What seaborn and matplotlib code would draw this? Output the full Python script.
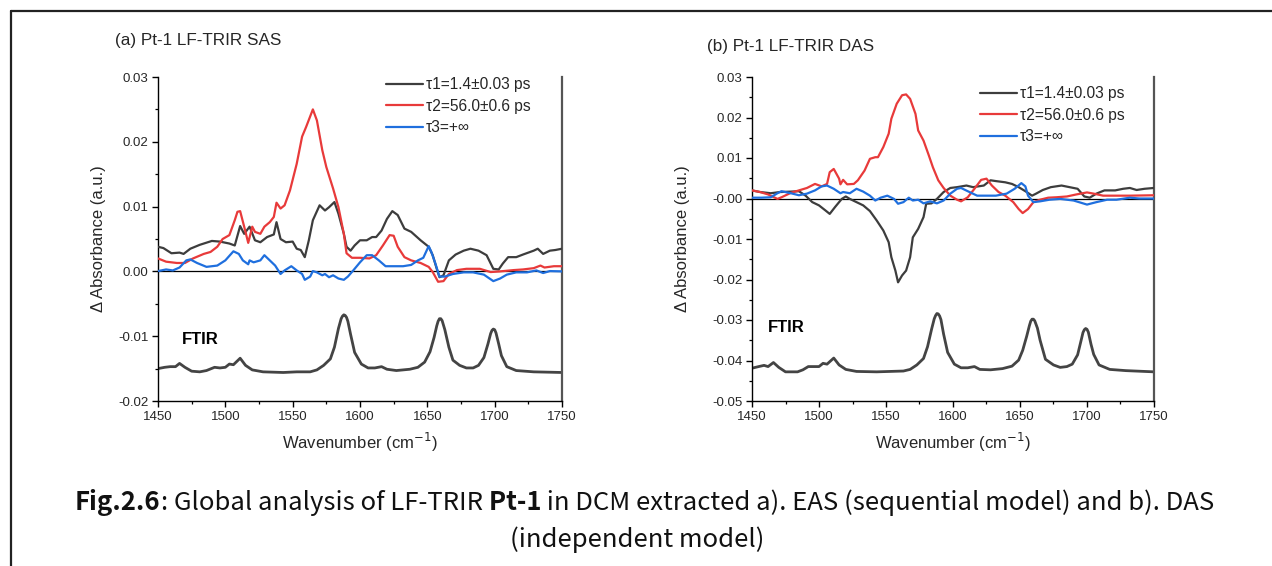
import matplotlib
matplotlib.use("Agg")
import matplotlib.pyplot as plt
import seaborn as sns
from matplotlib.lines import Line2D
from matplotlib.ticker import AutoMinorLocator, MultipleLocator, FormatStrFormatter

# ---------------- data ----------------
series_labels = ["τ1=1.4±0.03 ps", "τ2=56.0±0.6 ps", "τ3=+∞"]
panel_titles = ["(a) Pt-1 LF-TRIR SAS", "(b) Pt-1 LF-TRIR DAS"]
xticks = [1450, 1500, 1550, 1600, 1650, 1700, 1750]

# (a) species-associated spectra
sas_t1_wn = [1450, 1454, 1460, 1466, 1469, 1474, 1481, 1490, 1496, 1503, 1507, 1511, 1514, 1518,
             1522, 1526, 1531, 1536, 1538, 1541, 1545, 1550, 1553, 1556, 1559, 1562, 1565, 1570,
             1574, 1577, 1581, 1584, 1588, 1590, 1593, 1596, 1600, 1605, 1609, 1612, 1616, 1620,
             1624, 1628, 1633, 1638, 1645, 1651, 1654, 1657, 1659, 1662, 1666, 1671, 1677, 1682,
             1688, 1694, 1699, 1703, 1706, 1710, 1716, 1721, 1729, 1732, 1736, 1741, 1745, 1750]
sas_t1 = [0.0038, 0.0036, 0.0028, 0.0029, 0.0027, 0.0035, 0.0041, 0.0047, 0.0046, 0.0043, 0.0040,
          0.0070, 0.0058, 0.0069, 0.0048, 0.0045, 0.0053, 0.0057, 0.0076, 0.0050, 0.0045, 0.0046,
          0.0035, 0.0033, 0.0022, 0.0048, 0.0079, 0.0102, 0.0094, 0.0099, 0.0107, 0.0089, 0.0058,
          0.0038, 0.0032, 0.0040, 0.0048, 0.0048, 0.0053, 0.0053, 0.0063, 0.0081, 0.0093, 0.0087,
          0.0066, 0.0061, 0.0048, 0.0038, 0.0025, 0.0004, -0.0009, -0.0006, 0.0017, 0.0026, 0.0032,
          0.0035, 0.0032, 0.0025, 0.0004, 0.0003, 0.0012, 0.0022, 0.0022, 0.0026, 0.0032, 0.0035,
          0.0027, 0.0032, 0.0033, 0.0035]

sas_t2_wn = [1450, 1456, 1464, 1470, 1476, 1484, 1489, 1494, 1498, 1503, 1507, 1509, 1511, 1514,
             1517, 1520, 1522, 1526, 1529, 1533, 1536, 1538, 1541, 1544, 1548, 1553, 1557, 1560,
             1565, 1568, 1572, 1575, 1580, 1584, 1588, 1590, 1594, 1600, 1607, 1612, 1617, 1622,
             1625, 1628, 1633, 1638, 1645, 1651, 1654, 1658, 1662, 1666, 1672, 1679, 1689, 1697,
             1704, 1714, 1721, 1729, 1734, 1737, 1744, 1750]
sas_t2 = [0.0020, 0.0015, 0.0013, 0.0013, 0.0020, 0.0027, 0.0030, 0.0038, 0.0050, 0.0056, 0.0079,
          0.0092, 0.0093, 0.0069, 0.0044, 0.0069, 0.0061, 0.0058, 0.0069, 0.0076, 0.0084, 0.0106,
          0.0097, 0.0102, 0.0125, 0.0166, 0.0208, 0.0223, 0.0250, 0.0233, 0.0187, 0.0161, 0.0128,
          0.0099, 0.0058, 0.0028, 0.0021, 0.0021, 0.0020, 0.0025, 0.0040, 0.0056, 0.0055, 0.0038,
          0.0022, 0.0017, 0.0013, 0.0007, -0.0001, -0.0016, -0.0015, -0.0004, 0.0002, 0.0004,
          0.0004, -0.0001, 0.0000, 0.0002, 0.0003, 0.0005, 0.0009, 0.0006, 0.0008, 0.0008]

sas_t3_wn = [1450, 1456, 1461, 1466, 1471, 1474, 1479, 1486, 1494, 1500, 1506, 1510, 1513, 1517,
             1518, 1521, 1526, 1529, 1533, 1537, 1541, 1544, 1549, 1553, 1557, 1559, 1563, 1565,
             1568, 1572, 1574, 1577, 1580, 1584, 1588, 1591, 1595, 1600, 1605, 1609, 1614, 1619,
             1625, 1632, 1638, 1643, 1647, 1651, 1653, 1656, 1659, 1663, 1669, 1677, 1684, 1692,
             1699, 1704, 1709, 1716, 1724, 1731, 1736, 1741, 1750]
sas_t3 = [0.00005, 0.0003, 0.00015, 0.0006, 0.0017, 0.00185, 0.0013, 0.0007, 0.0009, 0.0017, 0.0031,
          0.0027, 0.0017, 0.0011, 0.0017, 0.0014, 0.0017, 0.0025, 0.0017, 0.0009, -0.0004, 0.00015,
          0.0008, 0.00015, -0.0004, -0.0013, -0.0008, 0.00005, -0.00015, -0.0006, -0.0004, -0.0009,
          -0.0006, -0.0011, -0.0013, -0.0008, 0.00015, 0.0014, 0.0025, 0.0025, 0.0017, 0.0008,
          0.0008, 0.0008, 0.0010, 0.0017, 0.0021, 0.0039, 0.0030, 0.0012, -0.0008, -0.0008, -0.0004,
          -0.00015, -0.00015, -0.0005, -0.0015, -0.0011, -0.0005, -0.00015, -0.00015, 0.00015,
          -0.00025, 0.00005, 0.0000]

sas_ftir_wn = [1450, 1455, 1459, 1463, 1466, 1470, 1475, 1481, 1486, 1492, 1496, 1500, 1503, 1506,
               1508, 1511, 1515, 1520, 1528, 1543, 1553, 1563, 1568, 1573, 1578, 1581, 1584, 1586,
               1587, 1588, 1589, 1590, 1591, 1593, 1596, 1601, 1606, 1611, 1616, 1620, 1627, 1637,
               1643, 1648, 1652, 1655, 1657, 1658, 1659, 1660, 1661, 1663, 1666, 1669, 1674, 1679,
               1684, 1688, 1692, 1695, 1697, 1698, 1699, 1700, 1701, 1703, 1705, 1709, 1716, 1729,
               1750]
sas_ftir = [-0.0150, -0.0148, -0.0147, -0.0147, -0.0142, -0.0148, -0.0154, -0.0155, -0.0153, -0.0148,
            -0.0149, -0.0148, -0.0143, -0.0144, -0.0140, -0.0134, -0.0145, -0.0152, -0.0155, -0.0156,
            -0.0155, -0.0155, -0.0152, -0.0145, -0.0135, -0.0117, -0.0088, -0.0073, -0.0069, -0.0067,
            -0.0068, -0.0071, -0.0077, -0.0097, -0.0125, -0.0143, -0.0149, -0.0149, -0.0147, -0.0151,
            -0.0153, -0.0151, -0.0148, -0.0140, -0.0124, -0.0102, -0.0084, -0.0077, -0.0073, -0.0073,
            -0.0076, -0.0090, -0.0117, -0.0137, -0.0145, -0.0149, -0.0149, -0.0145, -0.0133, -0.0112,
            -0.0096, -0.0091, -0.0089, -0.0090, -0.0095, -0.0112, -0.0130, -0.0147, -0.0153, -0.0155,
            -0.0156]

# (b) decay-associated spectra
das_t1_wn = [1450, 1456, 1464, 1471, 1479, 1485, 1490, 1495, 1500, 1505, 1508, 1512, 1517, 1520,
             1523, 1528, 1533, 1538, 1543, 1548, 1552, 1554, 1557, 1559, 1562, 1565, 1568, 1570,
             1574, 1578, 1580, 1584, 1588, 1593, 1598, 1603, 1610, 1615, 1623, 1628, 1632, 1639,
             1644, 1649, 1654, 1659, 1662, 1667, 1673, 1681, 1687, 1693, 1698, 1702, 1707, 1713,
             1721, 1727, 1732, 1737, 1743, 1750]
das_t1 = [0.0020, 0.0016, 0.0013, 0.0016, 0.0017, 0.0018, 0.0007, -0.0009, -0.0017, -0.0030, -0.0038,
          -0.0021, -0.0001, 0.0005, -0.0001, -0.0009, -0.0017, -0.0031, -0.0054, -0.0079, -0.0108,
          -0.0145, -0.0178, -0.0207, -0.0190, -0.0178, -0.0145, -0.0096, -0.0075, -0.0046, -0.0013,
          -0.0012, -0.0001, 0.0016, 0.0026, 0.0028, 0.0032, 0.0028, 0.0032, 0.0045, 0.0043, 0.0040,
          0.0036, 0.0028, 0.0018, 0.0007, 0.0012, 0.0021, 0.0028, 0.0032, 0.0028, 0.0024, 0.0005,
          0.0002, 0.0012, 0.0020, 0.0020, 0.0024, 0.0026, 0.0021, 0.0024, 0.0026]

das_t2_wn = [1450, 1456, 1462, 1469, 1472, 1479, 1485, 1491, 1497, 1502, 1506, 1508, 1511, 1515,
             1516, 1518, 1521, 1526, 1529, 1534, 1538, 1542, 1544, 1548, 1552, 1554, 1558, 1562,
             1565, 1568, 1572, 1574, 1578, 1582, 1585, 1589, 1593, 1598, 1603, 1606, 1611, 1616,
             1621, 1625, 1629, 1634, 1639, 1645, 1649, 1652, 1656, 1660, 1665, 1671, 1677, 1685,
             1692, 1700, 1705, 1712, 1722, 1732, 1750]
das_t2 = [0.0020, 0.0016, 0.0010, -0.0001, 0.0003, 0.0014, 0.0020, 0.0026, 0.0036, 0.0030, 0.0036,
          0.0065, 0.0073, 0.0049, 0.0035, 0.0046, 0.0035, 0.0036, 0.0045, 0.0069, 0.0098, 0.0102,
          0.0102, 0.0127, 0.0160, 0.0197, 0.0234, 0.0255, 0.0257, 0.0246, 0.0209, 0.0168, 0.0143,
          0.0106, 0.0077, 0.0045, 0.0026, 0.0007, -0.0003, -0.0007, 0.0003, 0.0024, 0.0046, 0.0049,
          0.0032, 0.0016, 0.0007, -0.0009, -0.0026, -0.0036, -0.0026, -0.0009, -0.0003, 0.0002,
          0.0003, 0.0005, 0.0010, 0.0015, 0.0012, 0.0007, 0.0007, 0.0007, 0.0008]

das_t3_wn = [1450, 1457, 1464, 1469, 1472, 1479, 1485, 1491, 1497, 1502, 1506, 1511, 1516, 1518,
             1523, 1528, 1533, 1538, 1542, 1546, 1551, 1556, 1559, 1563, 1567, 1570, 1574, 1578,
             1583, 1588, 1593, 1598, 1603, 1606, 1611, 1618, 1625, 1632, 1640, 1646, 1651, 1654,
             1656, 1660, 1665, 1672, 1680, 1690, 1700, 1707, 1715, 1722, 1732, 1739, 1750]
das_t3 = [0.0002, 0.0002, 0.0003, 0.0013, 0.0018, 0.0013, 0.0008, 0.0012, 0.0020, 0.0030, 0.0032,
          0.0024, 0.0013, 0.0016, 0.0013, 0.0024, 0.0017, 0.0007, -0.0005, 0.0002, 0.0007, -0.0001,
          -0.0013, -0.0009, 0.0002, -0.0005, -0.0003, -0.0012, -0.0007, -0.0012, -0.0005, 0.0012,
          0.0024, 0.0026, 0.0018, 0.0007, 0.0007, 0.0007, 0.0012, 0.0024, 0.0038, 0.0030, 0.0007,
          -0.0009, -0.0007, -0.0003, -0.0001, -0.0005, -0.0015, -0.0009, -0.0003, -0.0003, 0.0002,
          0.0000, 0.0000]

das_ftir_wn = [1450, 1455, 1459, 1462, 1466, 1470, 1475, 1484, 1488, 1492, 1496, 1500, 1503, 1506,
               1508, 1511, 1515, 1520, 1528, 1543, 1553, 1563, 1568, 1573, 1578, 1581, 1584, 1586,
               1587, 1588, 1589, 1590, 1591, 1593, 1596, 1601, 1606, 1611, 1616, 1620, 1628, 1637,
               1644, 1649, 1652, 1655, 1657, 1658, 1659, 1660, 1661, 1663, 1665, 1669, 1675, 1680,
               1685, 1689, 1693, 1696, 1697, 1698, 1699, 1700, 1701, 1703, 1705, 1709, 1717, 1729,
               1750]
das_ftir = [-0.0419, -0.0415, -0.0412, -0.0415, -0.0405, -0.0417, -0.0428, -0.0428, -0.0423, -0.0415,
            -0.0415, -0.0415, -0.0407, -0.0409, -0.0403, -0.0394, -0.0411, -0.0422, -0.0427, -0.0428,
            -0.0427, -0.0426, -0.0422, -0.0411, -0.0395, -0.0366, -0.0323, -0.0297, -0.0289, -0.0284,
            -0.0285, -0.0290, -0.0299, -0.0335, -0.0380, -0.0409, -0.0418, -0.0418, -0.0415, -0.0422,
            -0.0423, -0.0420, -0.0414, -0.0399, -0.0375, -0.0340, -0.0314, -0.0303, -0.0298, -0.0298,
            -0.0302, -0.0320, -0.0350, -0.0397, -0.0411, -0.0417, -0.0415, -0.0409, -0.0386, -0.0345,
            -0.0331, -0.0324, -0.0321, -0.0323, -0.0330, -0.0360, -0.0385, -0.0411, -0.0422, -0.0425,
            -0.0428]

# ---------------- styling ----------------
sns.set_theme(style="ticks")
plt.rcParams["font.family"] = ["Liberation Sans", "DejaVu Sans"]
plt.rcParams["axes.unicode_minus"] = False

series_colors = ["#3d3d3d", "#e83a3a", "#1f6fde"]
ftir_color = "#444444"

fig = plt.figure(figsize=(12.72, 5.66), dpi=100)
W, H = 1272, 566


def px_axes(x0, x1, y_top, y_bot):
    return fig.add_axes([x0 / W, 1 - y_bot / H, (x1 - x0) / W, (y_bot - y_top) / H])


ax_a = px_axes(158, 562, 77, 401)
ax_b = px_axes(752, 1154, 77, 401)

panels = [
    (ax_a, [(sas_t1_wn, sas_t1), (sas_t2_wn, sas_t2), (sas_t3_wn, sas_t3)],
     (sas_ftir_wn, sas_ftir), (-0.02, 0.03), (1468, -0.0105), -0.128, (0.564, 1.0)),
    (ax_b, [(das_t1_wn, das_t1), (das_t2_wn, das_t2), (das_t3_wn, das_t3)],
     (das_ftir_wn, das_ftir), (-0.05, 0.03), (1461.5, -0.0318), -0.154, (0.567, 0.972)),
]

for i, (ax, spectra, ftir, ylim, ftir_pos, ylab_x, leg_pos) in enumerate(panels):
    ax.axhline(0, color="black", lw=0.9, zorder=1)
    for (wn, vals), lab, col in zip(spectra, series_labels, series_colors):
        sns.lineplot(x=wn, y=vals, ax=ax, color=col, lw=1.6, label=lab,
                     estimator=None, sort=False, zorder=3)
    sns.lineplot(x=ftir[0], y=ftir[1], ax=ax, color=ftir_color, lw=2.0,
                 estimator=None, sort=False, zorder=2)
    ax.text(ftir_pos[0], ftir_pos[1], "FTIR", fontsize=12, fontweight="bold",
            ha="left", va="center", color="black")

    ax.set_xlim(1450, 1750)
    ax.set_ylim(*ylim)
    ax.set_xticks(xticks)
    ax.yaxis.set_major_locator(MultipleLocator(0.01))
    ax.yaxis.set_major_formatter(FormatStrFormatter("%.2f"))
    ax.xaxis.set_minor_locator(AutoMinorLocator(2))
    ax.yaxis.set_minor_locator(AutoMinorLocator(2))
    ax.tick_params(which="major", direction="out", length=4, width=1.0,
                   labelsize=9.5, color="black", pad=3)
    ax.tick_params(which="minor", direction="out", length=2.2, width=0.9, color="black")
    ax.tick_params(top=False, right=False, which="both")

    ax.spines["top"].set_visible(False)
    ax.spines["left"].set_linewidth(1.0)
    ax.spines["bottom"].set_linewidth(1.0)
    ax.spines["left"].set_color("black")
    ax.spines["bottom"].set_color("black")
    ax.spines["right"].set_color("#555555")
    ax.spines["right"].set_linewidth(1.6)

    ax.set_xlabel("Wavenumber (cm$^{-1}$)", fontsize=12, labelpad=6)
    ax.set_ylabel("Δ Absorbance (a.u.)", fontsize=12)
    ax.yaxis.set_label_coords(ylab_x, 0.5)
    ax.grid(False)

    ax.legend(loc="upper left", bbox_to_anchor=leg_pos, bbox_transform=ax.transAxes,
              frameon=False, fontsize=11.2, borderpad=0, borderaxespad=0,
              handlelength=2.4, handletextpad=0.15, labelspacing=0.42)

# panel titles
fig.text(115 / W, 1 - 40 / H, panel_titles[0], fontsize=12.3, ha="left", va="center")
fig.text(707 / W, 1 - 46 / H, panel_titles[1], fontsize=12.3, ha="left", va="center")

# frame lines
fig.add_artist(Line2D([11 / W, 1.0], [1 - 11 / H, 1 - 11 / H], color="#222222", lw=1.6,
                      transform=fig.transFigure))
fig.add_artist(Line2D([11 / W, 11 / W], [1 - 11 / H, 0.0], color="#222222", lw=1.6,
                      transform=fig.transFigure))

# caption, with bold runs chained after plain runs
cap_font = ["Noto Sans CJK SC", "DejaVu Sans"]
cap_size = 18.5
cap_parts = [("Fig.2.6", "bold"), (": Global analysis of LF-TRIR", "normal"),
             (" Pt-1", "bold"),
             (" in DCM extracted a). EAS (sequential model) and b). DAS", "normal")]
renderer = fig.canvas.get_renderer()
x_px = 75
y_line1 = 1 - 503 / H
for txt, wt in cap_parts:
    t = fig.text(x_px / W, y_line1, txt, fontsize=cap_size, fontweight=wt,
                 family=cap_font, ha="left", va="center", color="#111111")
    bb = t.get_window_extent(renderer)
    x_px = bb.x1
fig.text(637 / W, 1 - 540 / H, "(independent model)", fontsize=cap_size,
         family=cap_font, ha="center", va="center", color="#111111")

fig.savefig("out.png", dpi=100)
